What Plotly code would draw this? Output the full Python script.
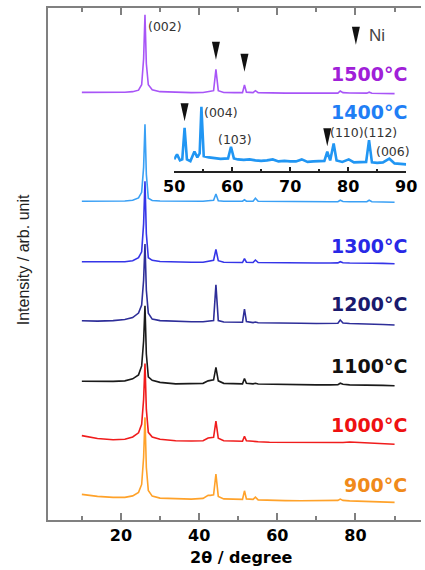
import plotly.graph_objects as go

# ---------------- data ----------------
two_theta = [10, 14, 18, 21, 23, 24.5, 25.3, 25.8, 26.15, 26.5, 27.0, 28, 30, 34, 38, 41,
             42.3, 42.9, 43.7, 44.3, 44.9, 46.3, 49, 51.1, 51.6, 52.1, 53.8, 54.4, 55.1, 58,
             62, 66, 70, 73.5, 75.5, 76.1, 76.8, 78.5, 82.9, 83.5, 84.2, 87, 90]

temps = ["1500°C", "1400°C", "1300°C", "1200°C", "1100°C", "1000°C", "900°C"]
offsets = [428, 319, 257.3, 195.7, 134.7, 76, 17.7]

i_1500 = [1.3, 1.2, 1.2, 1.4, 2, 3.5, 9, 35, 79.3, 30, 9, 4, 2, 1.2, 1, 1.2, 2.5, 2.5, 3, 24.3,
          3, 1.2, 1, 1, 8.7, 1.5, 1, 3, 1, 0.6, 0.5, 0.5, 0.4, 0.4, 0.5, 2.7, 1, 0.6, 0.5, 1.5,
          0.4, 0.2, 0]
i_1400 = [1, 1, 1, 1.2, 2, 4.3, 10, 35, 78.3, 28, 4, 1.7, 1.2, 1, 1, 1, 1.5, 1.5, 2, 8.3,
          1.5, 1, 1, 1, 2.5, 1, 1, 4, 1, 0.8, 0.6, 0.5, 0.5, 0.5, 0.6, 2, 0.8, 0.5, 0.5, 2,
          0.5, 0.3, 0]
i_1300 = [2, 1.8, 1.8, 2, 3, 6, 12, 40, 82.7, 30, 6, 3.4, 2.2, 1.6, 1.4, 1.5, 2.7, 3, 3.5, 14.4,
          3, 1.5, 1.2, 1.2, 5, 1.5, 1.2, 3.7, 1.2, 1, 0.8, 0.8, 0.7, 0.7, 0.8, 2, 1, 0.7, 0.6, 1.2,
          0.5, 0.3, 0]
i_1200 = [4.3, 4, 4.5, 5.5, 7.5, 12, 20, 45, 81.3, 35, 12, 6, 4.5, 3.6, 3.3, 3.3, 4, 4.5, 4.5, 40.3,
          4.5, 3, 2.8, 2.8, 16, 3.5, 2.5, 3, 2.3, 2, 1.8, 1.8, 1.6, 1.5, 1.8, 5, 2, 1.5, 1.2, 1.3,
          1, 0.5, 0]
i_1100 = [4.6, 4.3, 4.5, 5, 7, 11, 20, 45, 80.3, 32, 9, 5.5, 3.5, 2, 2, 2.5, 5, 5.3, 6, 18.6,
          5, 2.5, 2, 2, 7.3, 2.5, 2, 2.5, 1.8, 1.5, 1.2, 1, 1, 1, 1.2, 2.6, 1.5, 1, 1, 1,
          0.8, 0.5, 0]
i_1000 = [8.7, 5.8, 4.5, 5, 7.3, 11.5, 20, 45, 81, 35, 12, 7.3, 5, 3.5, 3.3, 3.5, 6.3, 6.3, 7, 23.3,
          6, 3.5, 3, 3, 8, 3.5, 3, 3, 2.5, 2, 1.8, 1.6, 1.5, 1.5, 1.5, 1.8, 1.8, 2.3, 1.5, 1.2,
          1, 0.5, 0]
i_900 = [8, 6, 5, 5, 6.5, 10, 18, 45, 85.3, 35, 12, 6.3, 4.3, 3.5, 3.3, 4, 7, 7, 7.5, 28.3,
         6, 3.5, 3, 3, 11.6, 3.5, 3, 5.3, 2.5, 2, 1.8, 1.6, 1.5, 1.5, 2, 3.3, 2, 1.5, 1, 1,
         0.8, 0.5, 0]
intensities = [i_1500, i_1400, i_1300, i_1200, i_1100, i_1000, i_900]

# inset: 1400°C pattern, 50-90 degrees
inset_x = [50.0, 50.5, 51.0, 51.4, 51.8, 52.2, 52.8, 53.5, 54.0, 54.4, 54.7, 55.1, 56, 57, 58,
           59.3, 59.8, 60.3, 61, 62, 63, 64, 65, 66, 67, 68, 69, 70, 71, 72, 73, 74, 75, 75.9,
           76.4, 76.9, 77.5, 78.0, 79, 80.1, 81, 82, 83.1, 83.6, 84.1, 85, 86, 87.1, 88, 89, 90]
inset_i = [12, 17, 11, 12, 43.7, 12, 10.3, 20, 14, 18, 64.7, 15.3, 14, 13, 12.5,
           13, 24.7, 13, 12, 11.5, 12, 11, 10.5, 11, 12, 10, 10.5, 10, 10, 12, 9.5, 10, 10, 10.5,
           19.7, 11, 28, 11, 9.5, 12, 9, 9, 9.5, 31.3, 9, 8.5, 9, 12.7, 8, 7.5, 7]

# peak / Ni markers
ni_main_x = [44.3, 51.6]
ni_main_y = [462, 450]
ni_inset_x = [51.8, 76.4]
ni_inset_y = [50.3, 25.3]
ni_legend_x = [80.1]
ni_legend_y = [477]

hkl_labels = ["(002)", "(004)", "(103)", "(110)(112)", "(006)"]

line_colors = ["#a855f7", "#3aa0f5", "#3535e8", "#2e2e99", "#1a1a1a", "#f01c1c", "#ffa22a"]
label_colors = ["#a020d8", "#1f7ef5", "#2828e6", "#1a1a6e", "#111111", "#ee1111", "#f08a1a"]

# ---------------- layout helpers ----------------
W, H = 438, 570
ML, MR, MT, MB = 48, 13, 6, 50
PW, PH = W - ML - MR, H - MT - MB


def px(xp):
    return (xp - ML) / PW


def py(yp):
    return (H - MB - yp) / PH


fig = go.Figure()

for name, off, vals, col in zip(temps, offsets, intensities, line_colors):
    fig.add_trace(go.Scatter(
        x=two_theta, y=[off + v for v in vals], mode="lines", name=name,
        line=dict(color=col, width=1.6), showlegend=False, hoverinfo="skip"))

fig.add_trace(go.Scatter(
    x=inset_x, y=inset_i, mode="lines", xaxis="x2", yaxis="y2",
    line=dict(color="#2196f3", width=2.6), showlegend=False, hoverinfo="skip"))

axis_gray = "#808080"
tickfont = dict(family="DejaVu Sans", size=16, color="black", weight="bold")

fig.update_layout(
    width=W, height=H, autosize=False,
    margin=dict(l=ML, r=MR, t=MT, b=MB),
    paper_bgcolor="white", plot_bgcolor="white",
    xaxis=dict(
        range=[1.34, 96.76], tickvals=[20, 40, 60, 80], ticks="inside", ticklen=7,
        tickwidth=1.5, tickcolor=axis_gray, showline=True, linecolor=axis_gray, linewidth=2,
        mirror="ticks", showgrid=False, zeroline=False, tickfont=tickfont,
        minor=dict(tickvals=[10, 30, 50, 70, 90], ticks="inside", ticklen=4,
                   tickwidth=1.5, tickcolor=axis_gray, showgrid=False),
    ),
    yaxis=dict(
        range=[0, PH], showline=True, linecolor=axis_gray, linewidth=2, ticks="",
        showticklabels=False, showgrid=False, zeroline=False,
    ),
    xaxis2=dict(
        domain=[px(175.5), px(410)], anchor="y2", range=[50, 90],
        tickvals=[50, 60, 70, 80, 90], ticks="inside", ticklen=5, tickwidth=1.5,
        tickcolor="#222", showline=True, linecolor="#222", linewidth=1.5,
        showgrid=False, zeroline=False, tickfont=tickfont,
        minor=dict(tickvals=[55, 65, 75, 85], ticks="inside", ticklen=3,
                   tickwidth=1.5, tickcolor="#222", showgrid=False),
    ),
    yaxis2=dict(
        domain=[py(170), py(100)], anchor="x2", range=[0, 70], visible=False,
    ),
)

annotations = []
label_y = [72.7, 110, 245, 303.3, 365, 425, 485]
for t, c, ly in zip(temps, label_colors, label_y):
    annotations.append(dict(
        x=px(413), y=py(ly), xref="paper", yref="paper", text=t, showarrow=False,
        xanchor="right", yanchor="middle",
        font=dict(family="DejaVu Sans", size=19, color=c, weight="bold")))

hkl_pos = [(166, 25), (223, 111), (237, 138), (367, 131.3), (397, 149.7)]
for t, (hx, hy) in zip(hkl_labels, hkl_pos):
    annotations.append(dict(
        x=px(hx), y=py(hy), xref="paper", yref="paper", text=t, showarrow=False,
        xanchor="center", yanchor="middle",
        font=dict(family="DejaVu Sans", size=12.5, color="#333")))

annotations.append(dict(
    x=px(370), y=py(33.5), xref="paper", yref="paper", text="Ni", showarrow=False,
    xanchor="left", yanchor="middle",
    font=dict(family="Liberation Sans", size=17, color="#444")))

annotations.append(dict(
    x=px(244), y=py(558), xref="paper", yref="paper", text="2θ / degree", showarrow=False,
    xanchor="center", yanchor="middle",
    font=dict(family="DejaVu Sans", size=16, color="black", weight="bold")))

annotations.append(dict(
    x=px(23), y=py(259), xref="paper", yref="paper", text="Intensity / arb. unit",
    showarrow=False, textangle=-90, xanchor="center", yanchor="middle",
    font=dict(family="Liberation Sans", size=16, color="#222")))

fig.update_layout(annotations=annotations)

shapes = []
tri = "M-4,18 L4,18 L0,0 Z"
for xs, ys, xr, yr in [(ni_main_x, ni_main_y, "x", "y"),
                       (ni_inset_x, ni_inset_y, "x2", "y2"),
                       (ni_legend_x, ni_legend_y, "x", "y")]:
    for xa, ya in zip(xs, ys):
        shapes.append(dict(
            type="path", xref=xr, yref=yr, xsizemode="pixel", ysizemode="pixel",
            xanchor=xa, yanchor=ya, path=tri, fillcolor="#111", line=dict(width=0)))
fig.update_layout(shapes=shapes)

post = ("document.documentElement.style.overflow='hidden';"
        "document.body.style.margin='0';document.body.style.overflow='hidden';")
fig.write_html("out.html", post_script=post,
               config={"displayModeBar": False, "responsive": False})
